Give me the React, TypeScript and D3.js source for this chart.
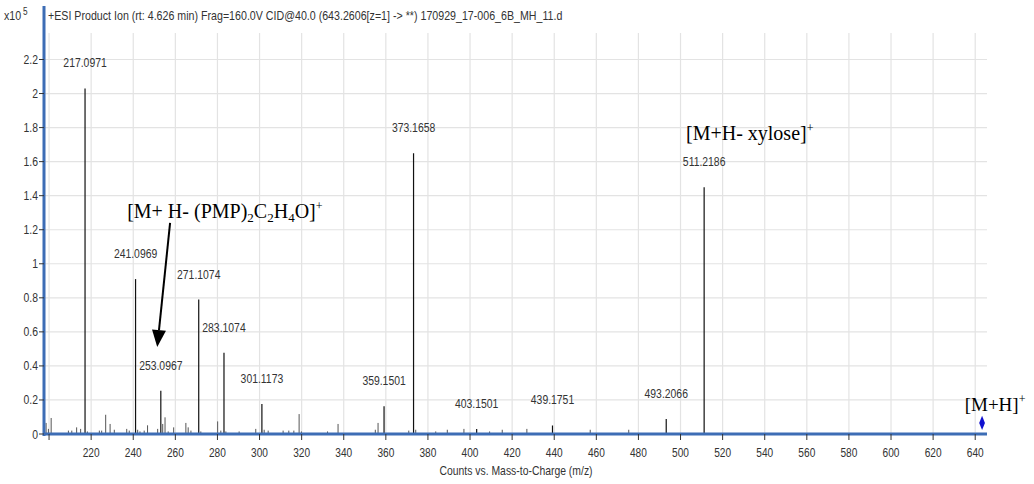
import React from 'react';
import * as d3 from 'd3';

// labelled fragment peaks (m/z, counts x10^5)
const peakMz = [217.0971, 241.0969, 253.0967, 271.1074, 283.1074, 301.1173, 359.1501, 373.1658, 403.1501, 439.1751, 493.2066, 511.2186];
const peakIntensity = [2.03, 0.91, 0.254, 0.79, 0.478, 0.176, 0.163, 1.65, 0.03, 0.05, 0.088, 1.45];

// small unlabelled peaks
const minorMz = [198.6, 199.7, 201.0, 209.2, 210.8, 213.1, 215.0, 218.2, 223.9, 225.0, 226.9, 229.0, 231.0, 236.9, 238.1, 242.1, 243.2, 245.2, 246.8, 251.6, 254.0, 255.1, 256.6, 259.2, 265.0, 266.1, 267.4, 272.1, 280.1, 281.6, 284.0, 290.3, 298.2, 302.2, 304.1, 311.2, 313.9, 316.3, 318.8, 319.9, 332.3, 337.3, 355.0, 356.3, 370.9, 374.2, 383.7, 389.2, 397.1, 409.3, 415.3, 427.0, 457.1, 475.4];
const minorIntensity = [0.065, 0.03, 0.094, 0.02, 0.02, 0.039, 0.03, 0.015, 0.02, 0.02, 0.113, 0.059, 0.025, 0.03, 0.02, 0.025, 0.015, 0.02, 0.051, 0.03, 0.059, 0.098, 0.015, 0.039, 0.065, 0.039, 0.02, 0.015, 0.074, 0.02, 0.015, 0.015, 0.03, 0.025, 0.02, 0.02, 0.02, 0.02, 0.117, 0.015, 0.015, 0.059, 0.025, 0.065, 0.02, 0.025, 0.015, 0.025, 0.03, 0.015, 0.025, 0.03, 0.025, 0.025];

// precursor ion marker
const precursorMz = 643.26;
const precursorIntensity = 0.065;

const xTicks = d3.range(200, 641, 20);
const yTicks = d3.range(0, 2.21, 0.2);

const title = '+ESI Product Ion (rt: 4.626 min) Frag=160.0V CID@40.0 (643.2606[z=1] -> **) 170929_17-006_6B_MH_11.d';
const xTitle = 'Counts vs. Mass-to-Charge (m/z)';

// annotation anchors in data space
const xyloseAt = [502.6, 1.727];
const pmpAt = [237.1, 1.267];
const mhAt = [635.0, 0.135];
const arrowFrom = [257.5, 1.24];
const arrowTo = [251.4, 0.511];

const sans = 'Liberation Sans, Arial, sans-serif';
const serif = 'Liberation Serif, Times New Roman, serif';

function CText({ x, y, anchor = 'start', size = 13, sx = 0.8, fill = '#333', children }: any) {
  return (
    <text transform={`translate(${x},${y}) scale(${sx},1)`} textAnchor={anchor}
      fontSize={size} fontFamily={sans} fill={fill}>{children}</text>
  );
}

export default function App() {
  const left = 44, right = 987, top = 33, bottom = 434;
  const x = d3.scaleLinear().domain([197.6, 645.6]).range([left, right]);
  const y = d3.scaleLinear().domain([0, 2.2]).range([bottom, 59.5]);
  const fmt = d3.format('.4f');
  const yFmt = (v: number) => d3.format('.1f')(v).replace(/\.0$/, '');

  // arrow head
  const ax0 = x(arrowFrom[0]), ay0 = y(arrowFrom[1]);
  const ax1 = x(arrowTo[0]), ay1 = y(arrowTo[1]);
  const ang = Math.atan2(ay1 - ay0, ax1 - ax0);
  const hl = 17, hw = 7;
  const bx = ax1 - hl * Math.cos(ang), by = ay1 - hl * Math.sin(ang);
  const head = [
    [ax1, ay1],
    [bx + hw * Math.sin(ang), by - hw * Math.cos(ang)],
    [bx - hw * Math.sin(ang), by + hw * Math.cos(ang)],
  ].map(p => p.join(',')).join(' ');

  const diamond = d3.symbol(d3.symbolDiamond, 40)();

  return (
    <svg width={1034} height={484} style={{ position: 'absolute', left: 0, top: 0, background: '#fff' }}>
      {/* grid */}
      {xTicks.map(t => (
        <line key={'gx' + t} x1={x(t)} x2={x(t)} y1={top} y2={bottom} stroke="#e3e3e3" strokeWidth={1.2} />
      ))}
      {yTicks.map(t => (
        <line key={'gy' + t} x1={left} x2={right} y1={y(t)} y2={y(t)} stroke="#e3e3e3" strokeWidth={1.2} />
      ))}

      {/* header */}
      <CText x={4} y={20} size={13} sx={0.82}>x10</CText>
      <CText x={23} y={15} size={10} sx={0.82}>5</CText>
      <CText x={48} y={20} size={13} sx={0.82}>{title}</CText>

      {/* minor peaks */}
      {minorMz.map((m, i) => (
        <line key={'m' + i} x1={x(m)} x2={x(m)} y1={bottom} y2={y(minorIntensity[i])} stroke="#555" strokeWidth={1} />
      ))}

      {/* labelled peaks */}
      {peakMz.map((m, i) => (
        <g key={'p' + i}>
          <line x1={x(m)} x2={x(m)} y1={bottom} y2={y(peakIntensity[i])} stroke="#111" strokeWidth={1.2} />
          <CText x={x(m)} y={y(peakIntensity[i]) - 21} anchor="middle" size={13} sx={0.8}>{fmt(m)}</CText>
        </g>
      ))}

      {/* precursor */}
      <path d={diamond as string} transform={`translate(${x(precursorMz)},${y(precursorIntensity)}) scale(0.85,1.2)`} fill="#1010d0" />

      {/* axes */}
      <line x1={left} x2={right} y1={bottom} y2={bottom} stroke="#3d6db5" strokeWidth={3} />
      <line x1={left} x2={left} y1={6} y2={bottom + 2} stroke="#3d6db5" strokeWidth={3} />
      {xTicks.map(t => (
        <g key={'xt' + t}>
          <line x1={x(t)} x2={x(t)} y1={bottom} y2={bottom + 6} stroke="#333" />
          {t > 200 && <CText x={x(t)} y={457} anchor="middle" size={13} sx={0.78}>{t}</CText>}
        </g>
      ))}
      {yTicks.map(t => (
        <g key={'yt' + t}>
          <line x1={left - 5} x2={left} y1={y(t)} y2={y(t)} stroke="#333" />
          <CText x={left - 6} y={y(t) + 4.5} anchor="end" size={13} sx={0.8}>{yFmt(t)}</CText>
        </g>
      ))}
      <CText x={516} y={475} anchor="middle" size={13} sx={0.8}>{xTitle}</CText>

      {/* annotations */}
      <text x={x(xyloseAt[0])} y={y(xyloseAt[1])} fontFamily={serif} fontSize={20} fill="#000">
        [M+H- xylose]<tspan fontSize={12} dy={-8}>+</tspan>
      </text>
      <text x={x(pmpAt[0])} y={y(pmpAt[1])} fontFamily={serif} fontSize={20} fill="#000">
        [M+ H- (PMP)<tspan fontSize={13} dy={4}>2</tspan>
        <tspan dy={-4}>C</tspan><tspan fontSize={13} dy={4}>2</tspan>
        <tspan dy={-4}>H</tspan><tspan fontSize={13} dy={4}>4</tspan>
        <tspan dy={-4}>O]</tspan><tspan fontSize={12} dy={-8}>+</tspan>
      </text>
      <text x={x(mhAt[0])} y={y(mhAt[1])} fontFamily={serif} fontSize={19} fill="#000">
        [M+H]<tspan fontSize={12} dy={-8}>+</tspan>
      </text>
      <line x1={ax0} y1={ay0} x2={bx} y2={by} stroke="#000" strokeWidth={2} />
      <polygon points={head} fill="#000" />
    </svg>
  );
}
